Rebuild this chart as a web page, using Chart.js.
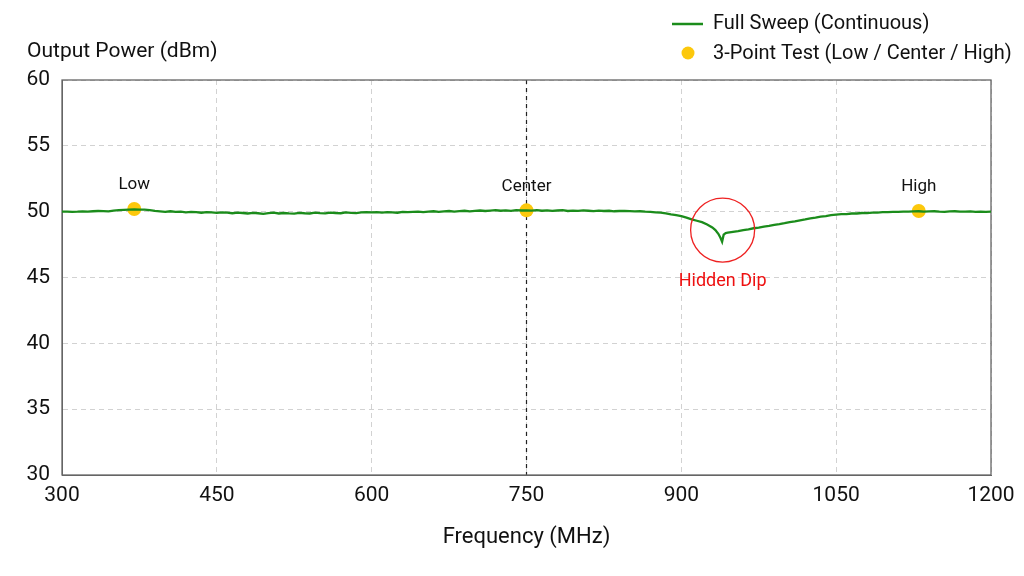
<!DOCTYPE html>
<html>
<head>
<meta charset="utf-8">
<script src="https://cdn.jsdelivr.net/npm/chart.js@4.4.1/dist/chart.umd.min.js"></script>
<style>
  html, body { margin: 0; padding: 0; background: #fff; }
  #wrap { width: 1024px; height: 576px; position: relative; }
</style>
</head>
<body>
<div id="wrap"><canvas id="chart"></canvas></div>
<script>
// sweep data
const sweepFreq = [
  300, 305, 310, 315, 320, 325, 330, 335, 340, 345,
  350, 355, 360, 365, 370, 375, 380, 385, 390, 395,
  400, 405, 410, 415, 420, 425, 430, 435, 440, 445,
  450, 455, 460, 465, 470, 475, 480, 485, 490, 495,
  500, 505, 510, 515, 520, 525, 530, 535, 540, 545,
  550, 555, 560, 565, 570, 575, 580, 585, 590, 595,
  600, 605, 610, 615, 620, 625, 630, 635, 640, 645,
  650, 655, 660, 665, 670, 675, 680, 685, 690, 695,
  700, 705, 710, 715, 720, 725, 730, 735, 740, 745,
  750, 755, 760, 765, 770, 775, 780, 785, 790, 795,
  800, 805, 810, 815, 820, 825, 830, 835, 840, 845,
  850, 855, 860, 865, 870, 875, 880, 885, 890, 895,
  900, 905, 910, 915, 920, 925, 930, 933, 936, 938, 939.5,
  941, 943, 945, 950, 955, 960, 965, 970, 975, 980, 985, 990, 995,
  1000, 1005, 1010, 1015, 1020, 1025, 1030, 1035, 1040, 1045,
  1050, 1055, 1060, 1065, 1070, 1075, 1080, 1085, 1090, 1095,
  1100, 1105, 1110, 1115, 1120, 1125, 1130, 1135, 1140, 1145,
  1150, 1155, 1160, 1165, 1170, 1175, 1180, 1185, 1190, 1195,
  1200
];
const sweepPower = [
  50.00, 50.01, 49.99, 50.00, 50.02, 50.01, 50.03, 50.05, 50.04, 50.02,
  50.08, 50.12, 50.14, 50.16, 50.17, 50.16, 50.15, 50.12, 50.06, 50.02,
  49.98, 50.03, 49.99, 50.01, 49.95, 49.98, 49.96, 49.92, 49.97, 49.94,
  49.91, 49.95, 49.92, 49.88, 49.93, 49.90, 49.86, 49.91, 49.88, 49.84,
  49.89, 49.92, 49.86, 49.90, 49.87, 49.85, 49.91, 49.88, 49.86, 49.92,
  49.89, 49.87, 49.93, 49.90, 49.88, 49.94, 49.91, 49.89, 49.95, 49.97,
  49.94, 49.96, 49.93, 49.97, 49.95, 49.92, 49.98, 49.96, 49.99, 50.01,
  49.97, 50.00, 50.03, 49.99, 50.02, 50.05, 50.01, 50.04, 50.07, 50.03,
  50.06, 50.09, 50.05, 50.08, 50.11, 50.07, 50.10, 50.06, 50.12, 50.09,
  50.10, 50.08, 50.12, 50.07, 50.10, 50.06, 50.09, 50.11, 50.05, 50.08,
  50.06, 50.10, 50.07, 50.04, 50.08, 50.05, 50.07, 50.03, 50.05, 50.06,
  50.04, 50.02, 50.03, 50.00, 49.98, 49.95, 49.92, 49.87, 49.80, 49.74,
  49.66, 49.55, 49.42, 49.31, 49.20, 49.03, 48.80, 48.60, 48.30, 48.00, 47.72,
  48.25, 48.37, 48.40, 48.47, 48.52, 48.60, 48.66, 48.74, 48.79, 48.87, 48.92, 49.00, 49.06,
  49.13, 49.21, 49.26, 49.34, 49.41, 49.49, 49.54, 49.62, 49.66, 49.73,
  49.77, 49.81, 49.82, 49.86, 49.86, 49.90, 49.89, 49.93, 49.93, 49.96,
  49.96, 49.99, 49.98, 50.01, 50.00, 50.02, 50.03, 50.01, 50.02, 50.03,
  50.00, 49.99, 50.02, 50.03, 50.01, 50.00, 50.02, 49.99, 50.01, 49.99,
  50.00
];

// 3-point test
const testNames = ['Low', 'Center', 'High'];
const testFreq = [370, 750, 1130];
const testPower = [50.2, 50.1, 50.05];

// callout around the dip
const dipFreq = 940;
const dipPower = 48.6;
const dipText = 'Hidden Dip';

const xTicks = [300, 450, 600, 750, 900, 1050, 1200];
const yTicks = [30, 35, 40, 45, 50, 55, 60];

const FONT = 'Roboto, "Noto Sans", sans-serif';
const GREEN = '#1b8c1b';
const GOLD = '#fcc80c';

const extras = {
    id: 'extras',
    beforeDatasetsDraw(chart) {
        const { ctx, chartArea: a, scales: { x } } = chart;
        const cx = x.getPixelForValue(testFreq[1]);
        ctx.save();
        ctx.strokeStyle = '#222';
        ctx.lineWidth = 1.2;
        ctx.setLineDash([4, 4]);
        ctx.beginPath();
        ctx.moveTo(cx, a.top);
        ctx.lineTo(cx, a.bottom);
        ctx.stroke();
        ctx.setLineDash([]);
        ctx.strokeStyle = '#666';
        ctx.lineWidth = 1.3;
        ctx.strokeRect(a.left, a.top, a.right - a.left, a.bottom - a.top);
        ctx.restore();
    },
    afterDatasetsDraw(chart) {
        const { ctx, scales: { x, y } } = chart;
        ctx.save();

        // labels over the test points
        const pts = chart.getDatasetMeta(1).data;
        ctx.fillStyle = '#111';
        ctx.font = '17px ' + FONT;
        ctx.textAlign = 'center';
        ctx.textBaseline = 'middle';
        pts.forEach((p, i) => ctx.fillText(testNames[i], p.x, p.y - 24));

        // dip callout
        const dx = x.getPixelForValue(dipFreq);
        const dy = y.getPixelForValue(dipPower);
        ctx.strokeStyle = '#ee2222';
        ctx.lineWidth = 1.3;
        ctx.beginPath();
        ctx.arc(dx, dy, 32, 0, Math.PI * 2);
        ctx.stroke();
        ctx.fillStyle = '#ee1111';
        ctx.font = '18px ' + FONT;
        ctx.fillText(dipText, dx, dy + 51);

        // y axis title, horizontal at top left
        ctx.fillStyle = '#111';
        ctx.font = '21px ' + FONT;
        ctx.textAlign = 'left';
        ctx.fillText('Output Power (dBm)', 27, 52);

        // legend
        const ds = chart.data.datasets;
        ctx.font = '20px ' + FONT;
        ctx.fillText(ds[0].label, 713, 24);
        ctx.fillText(ds[1].label, 713, 54);
        ctx.strokeStyle = GREEN;
        ctx.lineWidth = 2.5;
        ctx.beginPath();
        ctx.moveTo(672, 24);
        ctx.lineTo(703, 24);
        ctx.stroke();
        ctx.fillStyle = GOLD;
        ctx.beginPath();
        ctx.arc(688, 53, 6.5, 0, Math.PI * 2);
        ctx.fill();

        ctx.restore();
    }
};

new Chart(document.getElementById('chart'), {
    type: 'line',
    data: {
        datasets: [
            {
                label: 'Full Sweep (Continuous)',
                data: sweepFreq.map((f, i) => ({ x: f, y: sweepPower[i] })),
                borderColor: GREEN,
                borderWidth: 2.3,
                pointRadius: 0,
                tension: 0,
            },
            {
                label: '3-Point Test (Low / Center / High)',
                data: testFreq.map((f, i) => ({ x: f, y: testPower[i] })),
                showLine: false,
                pointRadius: 7,
                pointBackgroundColor: GOLD,
                pointBorderWidth: 0,
            },
        ],
    },
    options: {
        responsive: true,
        maintainAspectRatio: false,
        animation: false,
        layout: { padding: { top: 80, right: 33, left: 0, bottom: 0 } },
        plugins: {
            legend: { display: false },
            tooltip: { enabled: false },
        },
        scales: {
            x: {
                type: 'linear',
                min: 300,
                max: 1200,
                afterBuildTicks: (s) => { s.ticks = xTicks.map(v => ({ value: v })); },
                afterFit: (s) => { s.height = 101; },
                ticks: {
                    color: '#111',
                    font: { family: FONT, size: 21 },
                    padding: 8,
                    maxRotation: 0,
                    callback: (v) => String(v),
                },
                grid: { color: '#d2d2d2', drawTicks: false },
                border: { color: '#666', dash: [5, 4] },
                title: {
                    display: true,
                    text: 'Frequency (MHz)',
                    color: '#111',
                    font: { family: FONT, size: 22 },
                    padding: 25,
                },
            },
            y: {
                min: 30,
                max: 60,
                afterBuildTicks: (s) => { s.ticks = yTicks.map(v => ({ value: v })); },
                afterFit: (s) => { s.width = 62; },
                ticks: { color: '#111', font: { family: FONT, size: 21 }, padding: 12 },
                grid: { color: '#d2d2d2', drawTicks: false },
                border: { color: '#666', dash: [5, 4] },
            },
        },
    },
    plugins: [extras],
});
</script>
</body>
</html>
